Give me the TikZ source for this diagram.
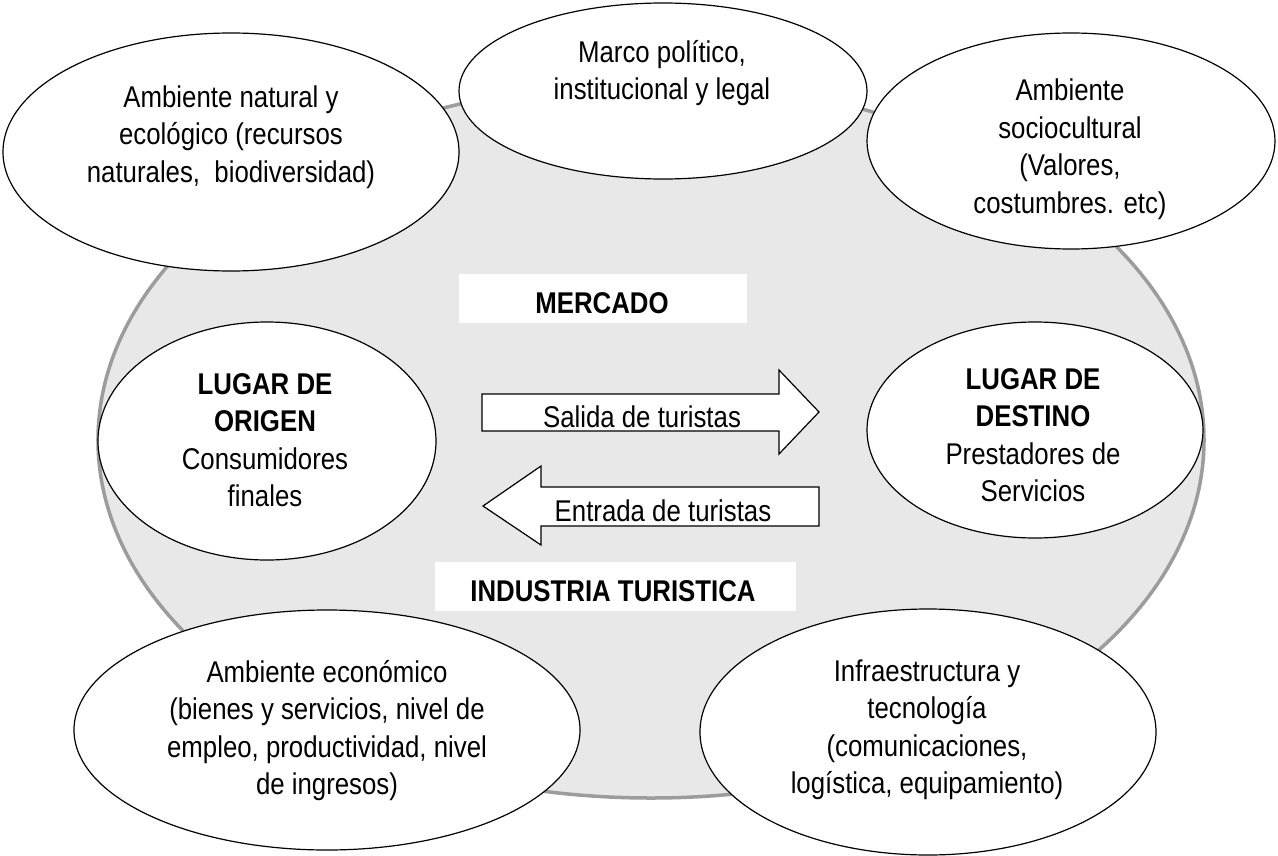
\documentclass[tikz,border=0pt]{standalone}
\usepackage{fontspec}
\setmainfont{Liberation Sans}[FakeStretch=0.86]
\usetikzlibrary{shapes.geometric}
\definecolor{ringgrey}{HTML}{9C9C9C}
\definecolor{fillgrey}{HTML}{E8E8E8}
\begin{document}
\begin{tikzpicture}[x=1bp,y=-1bp,
  bubble/.style={ellipse, draw=black, line width=1.2bp, fill=white, inner sep=0pt},
  txt/.style={align=center, inner sep=0pt, font=\fontsize{30bp}{37.5bp}\selectfont},
  boldtxt/.style={inner sep=0pt, font=\fontsize{30bp}{37.5bp}\selectfont\bfseries},
  whitebox/.style={fill=white, inner sep=0pt},
  arrowshape/.style={draw=black, line width=1.2bp, fill=white, line join=miter}]
\useasboundingbox (0,0) rectangle (1278,856);
% market ring
\node[ellipse, draw=ringgrey, line width=3.5bp, fill=fillgrey, inner sep=0pt,
      minimum width=1106bp, minimum height=716bp] (ring) at (651,440) {};
% label boxes
\node[whitebox, minimum width=288bp, minimum height=49bp] (mbox) at (603,298.5) {};
\node[boldtxt, anchor=base] (mtext) at (602,313) {MERCADO};
\node[whitebox, minimum width=361bp, minimum height=49bp] (ibox) at (615.5,586.5) {};
\node[boldtxt, anchor=base] (itext) at (613,601) {INDUSTRIA TURISTICA};
% arrows
\draw[arrowshape] (482,394) -- (779,394) -- (779,370) -- (819,412) -- (779,454) -- (779,431) -- (482,431) -- cycle;
\node[txt, anchor=base] (salida) at (642,427) {Salida de turistas};
\draw[arrowshape] (819,487) -- (541,487) -- (541,466) -- (483,506) -- (541,545) -- (541,526) -- (819,526) -- cycle;
\node[txt, anchor=base] (entrada) at (663,521) {Entrada de turistas};
% surrounding ellipses
\node[bubble, minimum width=456bp, minimum height=238bp] (natural) at (231,152) {};
\node[bubble, minimum width=408bp, minimum height=176bp] (marco) at (663,91) {};
\node[bubble, minimum width=408bp, minimum height=216bp] (socio) at (1071,141) {};
\node[bubble, minimum width=338bp, minimum height=238bp] (origen) at (267,441) {};
\node[bubble, minimum width=336bp, minimum height=216bp] (destino) at (1035,430) {};
\node[bubble, minimum width=506bp, minimum height=240bp] (econ) at (327,730) {};
\node[bubble, minimum width=456bp, minimum height=246bp] (infra) at (928,732) {};
% texts
\node[txt] (tnatural) at (231,137) {\strut Ambiente natural y\\ecológico (recursos\\naturales,\ \ biodiversidad)\strut};
\node[txt] (tmarco) at (662,73.5) {\strut Marco político,\\institucional y legal\strut};
\node[txt] (tsocio) at (1070,149.5) {\strut Ambiente\\sociocultural\\(Valores,\\costumbres. etc)\strut};
\node[txt] (torigen) at (265,443) {\strut\textbf{LUGAR DE}\\\textbf{ORIGEN}\\Consumidores\\finales\strut};
\node[txt] (tdestino) at (1033,438) {\strut\textbf{LUGAR DE}\\\textbf{DESTINO}\\Prestadores de\\Servicios\strut};
\node[txt] (tecon) at (327,731) {\strut Ambiente económico\\(bienes y servicios, nivel de\\empleo, productividad, nivel\\de ingresos)\strut};
\node[txt] (tinfra) at (927,730) {\strut Infraestructura y\\tecnología\\(comunicaciones,\\logística, equipamiento)\strut};
\end{tikzpicture}
\end{document}
